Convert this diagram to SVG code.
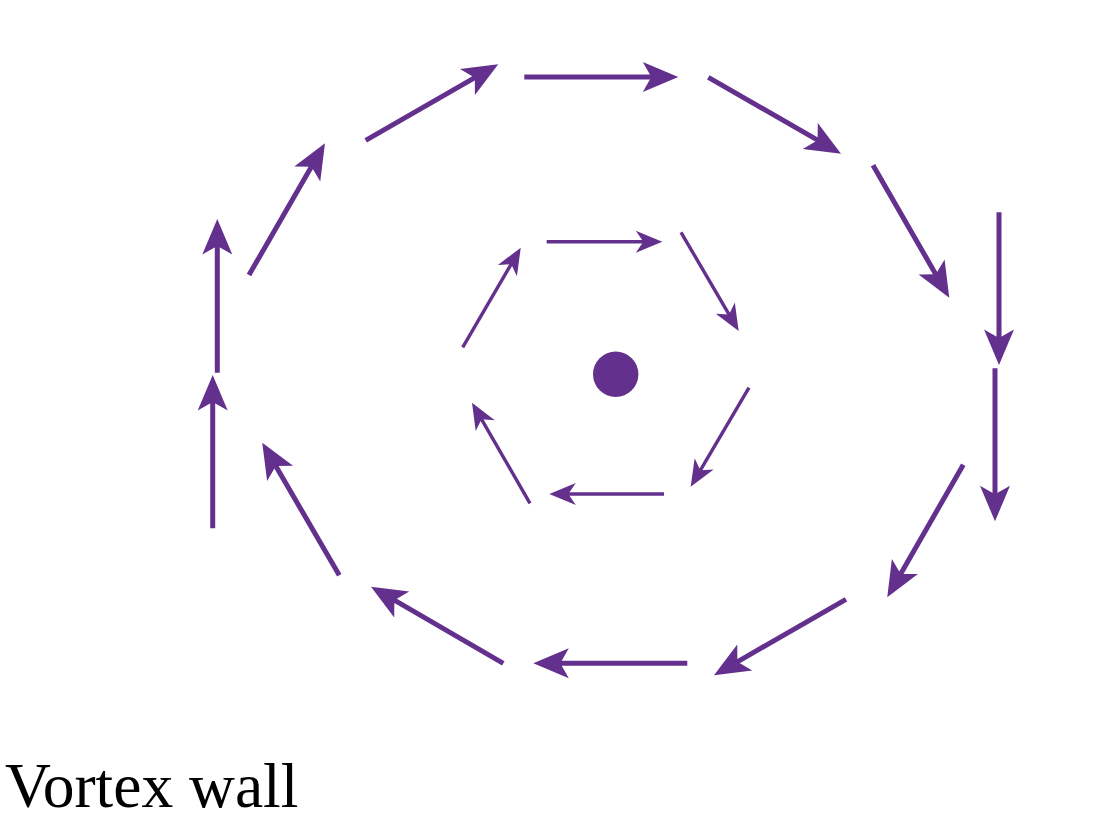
<svg xmlns="http://www.w3.org/2000/svg" width="1100" height="834" viewBox="0 0 1100 834">
  <style>
    .outer { stroke: #63308d; stroke-width: 5; fill: none; marker-end: url(#headOuter); }
    .inner { stroke: #63308d; stroke-width: 3.4; fill: none; marker-end: url(#headInner); }
    .label { font-family: "Liberation Serif", "Times New Roman", serif; font-size: 63.5px; fill: #000; }
  </style>
  <defs>
    <marker id="headOuter" markerUnits="userSpaceOnUse" viewBox="-37 -16 38 32" markerWidth="38" markerHeight="32" refX="-20" refY="0" orient="auto" overflow="visible">
      <path d="M0,0 L-35.5,-15 L-27,0 L-35.5,15 Z" fill="#63308d"/>
    </marker>
    <marker id="headInner" markerUnits="userSpaceOnUse" viewBox="-28 -12 29 24" markerWidth="29" markerHeight="24" refX="-14" refY="0" orient="auto" overflow="visible">
      <path d="M0,0 L-26.5,-11 L-19,0 L-26.5,11 Z" fill="#63308d"/>
    </marker>
  </defs>
  <rect width="1100" height="834" fill="#ffffff"/>
  <g id="connectors">
    <g id="outer-ring">
      <line class="outer" x1="212.7" y1="528.3" x2="212.7" y2="395"/>
      <line class="outer" x1="217.3" y1="372.7" x2="217.3" y2="239"/>
      <line class="outer" x1="249" y1="275" x2="315" y2="160.6"/>
      <line class="outer" x1="365.7" y1="140.3" x2="480.9" y2="74.2"/>
      <line class="outer" x1="524.3" y1="77" x2="658.3" y2="77"/>
      <line class="outer" x1="708.3" y1="77.3" x2="823.7" y2="143.7"/>
      <line class="outer" x1="873" y1="165.3" x2="939.3" y2="280.4"/>
      <line class="outer" x1="999" y1="212.3" x2="999" y2="345"/>
      <line class="outer" x1="995" y1="368.3" x2="995" y2="501.3"/>
      <line class="outer" x1="963.3" y1="464.7" x2="897.2" y2="580"/>
      <line class="outer" x1="846" y1="599.3" x2="731.3" y2="665.3"/>
      <line class="outer" x1="687.3" y1="663.3" x2="553.3" y2="663.3"/>
      <line class="outer" x1="503.3" y1="663.3" x2="388.3" y2="596.7"/>
      <line class="outer" x1="339.3" y1="575.3" x2="272.3" y2="460"/>
    </g>
    <g id="inner-ring">
      <line class="inner" x1="546.7" y1="241.7" x2="648.3" y2="241.7"/>
      <line class="inner" x1="681" y1="232.3" x2="731.6" y2="318.9"/>
      <line class="inner" x1="749" y1="387.7" x2="697.8" y2="474.6"/>
      <line class="inner" x1="664" y1="494" x2="563.3" y2="494"/>
      <line class="inner" x1="530" y1="503.3" x2="479" y2="414.8"/>
      <line class="inner" x1="462.7" y1="347.3" x2="513.7" y2="259.8"/>
    </g>
  </g>
  <g id="core">
    <circle cx="615.7" cy="374.3" r="22.7" fill="#63308d"/>
  </g>
  <g id="label">
    <text class="label" x="5" y="806.5">Vortex wall</text>
  </g>
</svg>
